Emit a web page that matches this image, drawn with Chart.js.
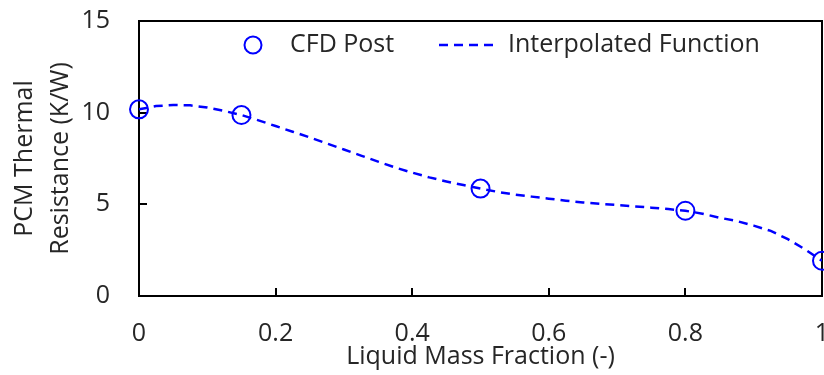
<!DOCTYPE html>
<html><head><meta charset="utf-8">
<script src="https://cdn.jsdelivr.net/npm/chart.js@4/dist/chart.umd.min.js"></script>
<style>html,body{margin:0;padding:0;background:#fff}#wrap{width:824px;height:375px;position:relative}</style>
</head><body><div id="wrap"><canvas id="c"></canvas></div>
<script>
// CFD Post samples
const cfdX = [0, 0.15, 0.5, 0.8, 1];
const cfdY = [10.18, 9.87, 5.86, 4.65, 1.92];
// Interpolated function
const curveX = [0, 0.025, 0.05, 0.075, 0.1, 0.125, 0.15, 0.175, 0.2, 0.225, 0.25, 0.275, 0.3, 0.325, 0.35, 0.375, 0.4, 0.425, 0.45, 0.475, 0.5, 0.525, 0.55, 0.575, 0.6, 0.625, 0.65, 0.675, 0.7, 0.725, 0.75, 0.775, 0.8, 0.825, 0.85, 0.875, 0.9, 0.925, 0.95, 0.975, 1];
const curveY = [10.18, 10.36, 10.42, 10.40, 10.28, 10.09, 9.87, 9.58, 9.27, 8.96, 8.65, 8.32, 7.99, 7.66, 7.33, 7.01, 6.73, 6.47, 6.25, 6.05, 5.86, 5.68, 5.53, 5.42, 5.31, 5.20, 5.10, 5.03, 4.96, 4.89, 4.82, 4.74, 4.65, 4.49, 4.27, 4.09, 3.84, 3.55, 3.10, 2.55, 1.92];
// Axis ticks
const xTickValues = [0, 0.2, 0.4, 0.6, 0.8, 1];
const xTickLabels = ['0', '0.2', '0.4', '0.6', '0.8', '1'];
const yTickValues = [0, 5, 10, 15];
const yTickLabels = ['0', '5', '10', '15'];
const seriesNames = ['CFD Post', 'Interpolated Function'];
const axisTitles = { x: 'Liquid Mass Fraction (-)', y: ['PCM Thermal', 'Resistance (K/W)'] };

const FONT = '"Open Sans", "Liberation Sans", sans-serif';
const TXT = '#262626';
const BLUE = '#0000FF';

const framePlugin = {
  id: 'frame',
  beforeDatasetsDraw(chart) {
    const {ctx, chartArea: a} = chart;
    ctx.save();
    ctx.strokeStyle = '#000';
    ctx.lineWidth = 2;
    ctx.beginPath();
    ctx.moveTo(a.left, a.top);
    ctx.lineTo(a.right, a.top);
    ctx.lineTo(a.right, a.bottom);
    ctx.stroke();
    ctx.restore();
  }
};

const legendPlugin = {
  id: 'innerLegend',
  afterDraw(chart) {
    const ctx = chart.ctx;
    const y = 45;
    ctx.save();
    ctx.font = '25px ' + FONT;
    ctx.fillStyle = TXT;
    ctx.textBaseline = 'middle';
    ctx.strokeStyle = BLUE;
    ctx.lineWidth = 2;
    ctx.beginPath();
    ctx.arc(253, y, 8.5, 0, Math.PI * 2);
    ctx.stroke();
    ctx.fillText(seriesNames[0], 290, y);
    ctx.lineWidth = 2.5;
    ctx.setLineDash([9, 6]);
    ctx.beginPath();
    ctx.moveTo(439, y);
    ctx.lineTo(498, y);
    ctx.stroke();
    ctx.setLineDash([]);
    ctx.fillText(seriesNames[1], 508, y);
    ctx.restore();
  }
};

function zeroPad(s) { s.paddingTop = 0; s.paddingBottom = 0; s.paddingLeft = 0; s.paddingRight = 0; }

new Chart(document.getElementById('c'), {
  type: 'scatter',
  data: {
    datasets: [
      {
        label: seriesNames[1],
        data: curveX.map((x, i) => ({x, y: curveY[i]})),
        showLine: true,
        borderColor: BLUE,
        borderWidth: 2.5,
        borderDash: [9, 6],
        pointRadius: 0,
        tension: 0,
        fill: false,
        order: 2
      },
      {
        label: seriesNames[0],
        data: cfdX.map((x, i) => ({x, y: cfdY[i]})),
        showLine: false,
        pointRadius: 9,
        pointBorderWidth: 2,
        pointBorderColor: BLUE,
        pointBackgroundColor: 'rgba(0,0,0,0)',
        clip: false,
        order: 1
      }
    ]
  },
  options: {
    responsive: true,
    maintainAspectRatio: false,
    animation: false,
    events: [],
    layout: { autoPadding: false, padding: { top: 21, right: 2, left: 0, bottom: 0 } },
    plugins: { legend: { display: false }, tooltip: { enabled: false } },
    scales: {
      x: {
        type: 'linear',
        position: 'bottom',
        min: 0, max: 1,
        afterBuildTicks: s => { s.ticks = xTickValues.map(v => ({value: v})); },
        afterFit: s => { s.height = 79; zeroPad(s); },
        ticks: {
          callback: (v, i) => xTickLabels[i],
          padding: 31,
          color: TXT,
          font: { family: FONT, size: 25 },
          maxRotation: 0,
          autoSkip: false
        },
        grid: { drawOnChartArea: false, drawTicks: true, tickLength: -8, color: '#000', lineWidth: 2 },
        border: { display: true, color: '#000', width: 2 },
        title: {
          display: true,
          text: axisTitles.x,
          color: TXT,
          font: { family: FONT, size: 25, lineHeight: 1.2 },
          padding: { top: 0, bottom: 3 }
        }
      },
      y: {
        type: 'linear',
        position: 'left',
        min: 0, max: 15,
        afterBuildTicks: s => { s.ticks = yTickValues.map(v => ({value: v})); },
        afterFit: s => { s.width = 139; zeroPad(s); },
        ticks: {
          callback: (v, i) => yTickLabels[i],
          padding: 37,
          color: TXT,
          font: { family: FONT, size: 25 },
          autoSkip: false
        },
        grid: { drawOnChartArea: false, drawTicks: true, tickLength: -8, color: '#000', lineWidth: 2 },
        border: { display: true, color: '#000', width: 2 },
        title: {
          display: true,
          text: axisTitles.y,
          color: TXT,
          font: { family: FONT, size: 25, lineHeight: 1.44 },
          padding: { top: 7, bottom: 0 }
        }
      }
    }
  },
  plugins: [framePlugin, legendPlugin]
});
</script>
</body></html>
